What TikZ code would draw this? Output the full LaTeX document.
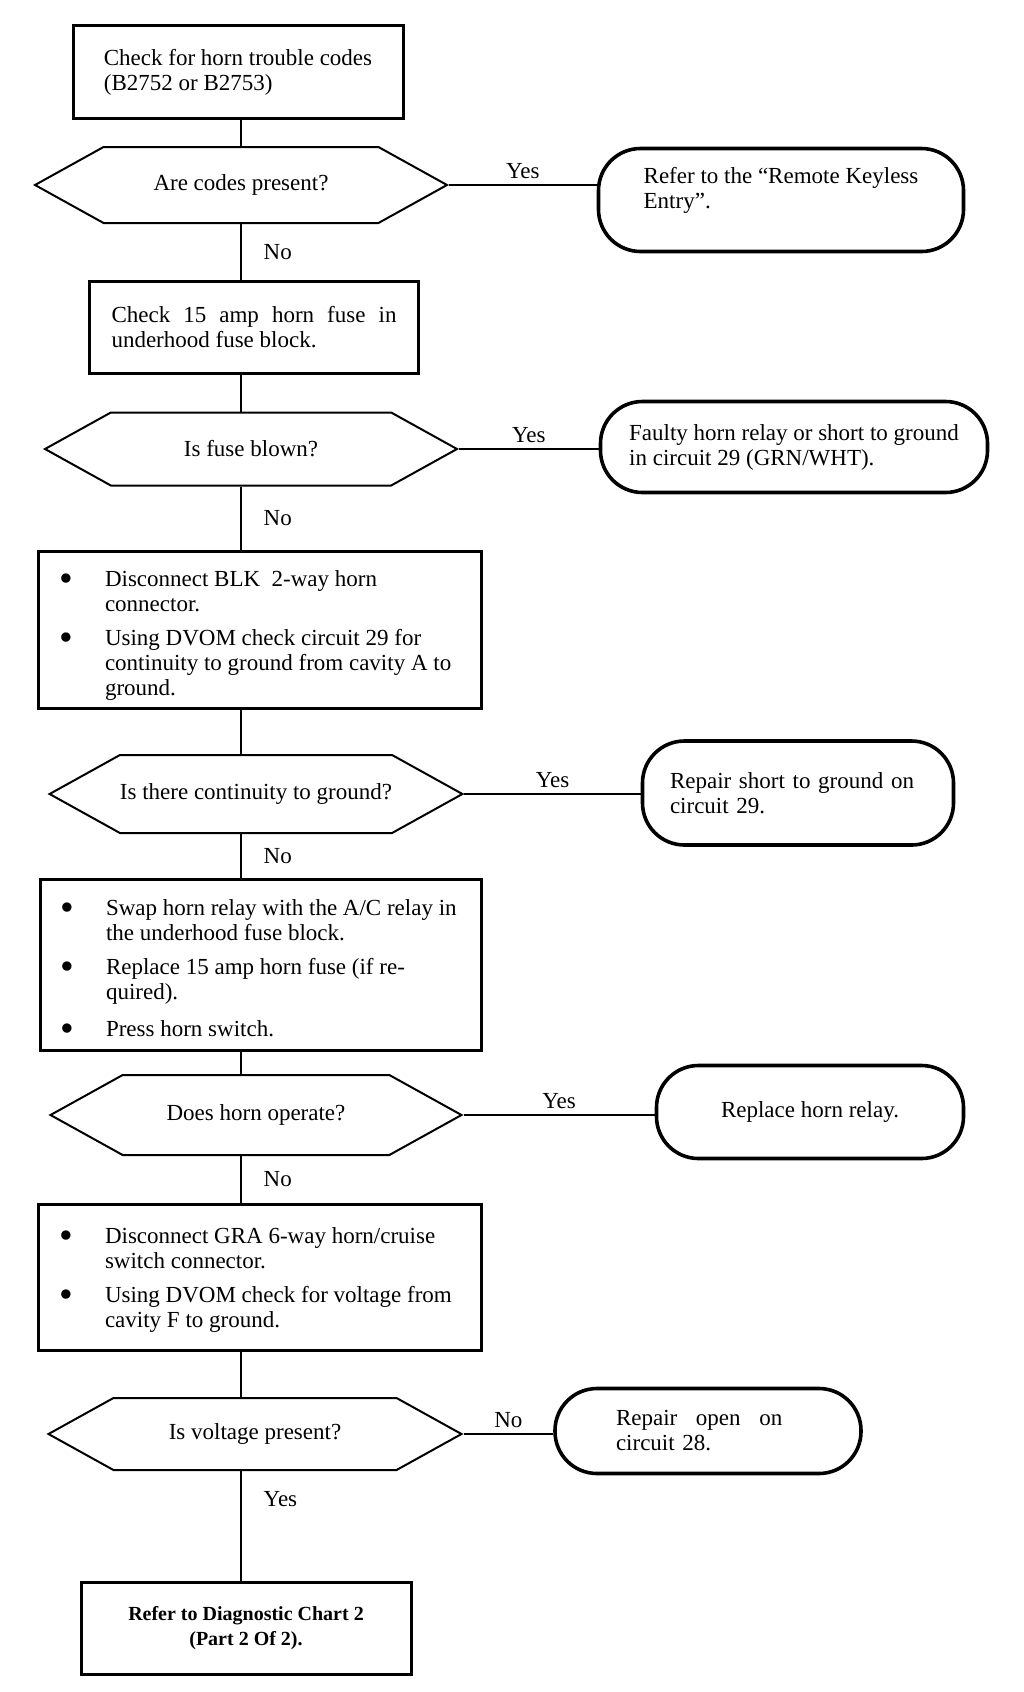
\documentclass[tikz,border=0pt]{standalone}
\usepackage{fontspec}
\setmainfont{Liberation Serif}
\usetikzlibrary{shapes.symbols,positioning}

\tikzset{
  stepbox/.style={draw, line width=3pt, inner sep=0pt, align=left,
    font=\fontsize{23}{25}\selectfont},
  askbox/.style={draw, line width=2pt, signal, signal to=west and east,
    signal pointer angle=58, inner sep=0pt, font=\fontsize{23}{25}\selectfont},
  endbox/.style={draw, line width=3.6pt, rounded corners=42pt, inner sep=0pt,
    align=left, font=\fontsize{23}{25}\selectfont},
  link/.style={line width=1.4pt},
  ans/.style={inner sep=6pt, font=\fontsize{23}{25}\selectfont},
}
\newcommand{\bitem}[1]{\makebox[46pt][l]{\raisebox{-5pt}{\scalebox{1.7}{\textbullet}}}\parbox[t]{356pt}{#1}}

\begin{document}
\begin{tikzpicture}[x=1pt,y=-1pt]
    \useasboundingbox (0,0) rectangle (1024,1692);
    % Nodes
    \coordinate (spine) at (241,0);
    \node[stepbox, minimum width=330pt, minimum height=93pt] (check) at (238,72)
        {Check for horn trouble codes\\(B2752 or B2753)};
    \node[askbox, minimum width=412pt, minimum height=76pt] (codes) at (241,185)
        {Are codes present?};
    \node[endbox, minimum width=365pt, minimum height=103pt] (keyless) at (781,200)
        {Refer to the “Remote Keyless\\Entry”.\\\mbox{}};
    \node[stepbox, minimum width=329pt, minimum height=92pt] (fuse) at (254,327)
        {\makebox[285pt][s]{Check 15 amp horn fuse in}\\underhood fuse block.};
    \node[askbox, minimum width=412pt, minimum height=73pt] (blown) at (251,449)
        {Is fuse blown?};
    \node[endbox, minimum width=387pt, minimum height=91pt] (relay) at (794,447)
        {Faulty horn relay or short to ground\\in circuit 29 (GRN/WHT).};
    \node[stepbox, minimum width=443pt, minimum height=157pt] (blk) at (260,630)
        {\rule{0pt}{27pt}\bitem{Disconnect BLK~ 2-way horn\\connector.}\\[17pt]
         \bitem{Using DVOM check circuit 29 for\\continuity to ground from cavity A to\\ground.}};
    \node[askbox, minimum width=411pt, minimum height=78pt] (ground) at (256,794)
        {Is there continuity to ground?};
    \node[endbox, text width=256pt, minimum width=311pt, minimum height=104pt] (short) at (798,793)
        {Repair short to ground on\\circuit 29.};
    \node[stepbox, minimum width=441pt, minimum height=171pt] (swap) at (261,965)
        {\rule{0pt}{27pt}\bitem{Swap horn relay with the A/C relay in\\the underhood fuse block.}\\[17pt]
         \bitem{Replace 15 amp horn fuse (if re-\\quired).}\\[15pt]
         \bitem{Press horn switch.}};
    \node[askbox, minimum width=411pt, minimum height=80pt] (operate) at (256,1115)
        {Does horn operate?};
    \node[endbox, align=center, minimum width=307pt, minimum height=93pt] (replace) at (810,1112)
        {Replace horn relay.};
    \node[stepbox, minimum width=443pt, minimum height=146pt] (gra) at (260,1277)
        {\rule{0pt}{22pt}\bitem{Disconnect GRA 6-way horn/cruise\\switch connector.}\\[17pt]
         \bitem{Using DVOM check for voltage from\\cavity F to ground.}};
    \node[askbox, minimum width=413pt, minimum height=72pt] (voltage) at (255,1434)
        {Is voltage present?};
    \node[endbox, text width=184pt, minimum width=306pt, minimum height=85pt] (open) at (708,1431)
        {Repair\hspace{11pt} open\hspace{11pt} on\\circuit 28.};
    \node[stepbox, align=center, font=\bfseries\fontsize{20}{25}\selectfont,
        minimum width=330pt, minimum height=92pt] (chart) at (246,1628)
        {Refer to Diagnostic Chart 2\\(Part 2 Of 2).};
    % Lines
    \draw[link] (check.south -| spine) -- (codes.north -| spine);
    \draw[link] (codes.east) -- node[ans, above]{Yes} (codes.east -| keyless.west);
    \draw[link] (codes.south -| spine) -- node[ans, right=16pt]{No} (fuse.north -| spine);
    \draw[link] (fuse.south -| spine) -- (blown.north -| spine);
    \draw[link] (blown.east) -- node[ans, above]{Yes} (blown.east -| relay.west);
    \draw[link] (blown.south -| spine) -- node[ans, right=16pt]{No} (blk.north -| spine);
    \draw[link] (blk.south -| spine) -- (ground.north -| spine);
    \draw[link] (ground.east) -- node[ans, above]{Yes} (ground.east -| short.west);
    \draw[link] (ground.south -| spine) -- node[ans, right=16pt]{No} (swap.north -| spine);
    \draw[link] (swap.south -| spine) -- (operate.north -| spine);
    \draw[link] (operate.east) -- node[ans, above]{Yes} (operate.east -| replace.west);
    \draw[link] (operate.south -| spine) -- node[ans, right=16pt]{No} (gra.north -| spine);
    \draw[link] (gra.south -| spine) -- (voltage.north -| spine);
    \draw[link] (voltage.east) -- node[ans, above]{No} (voltage.east -| open.west);
    \draw[link] (voltage.south -| spine) -- node[ans, right=16pt, pos=0.26]{Yes} (chart.north -| spine);
\end{tikzpicture}
\end{document}
